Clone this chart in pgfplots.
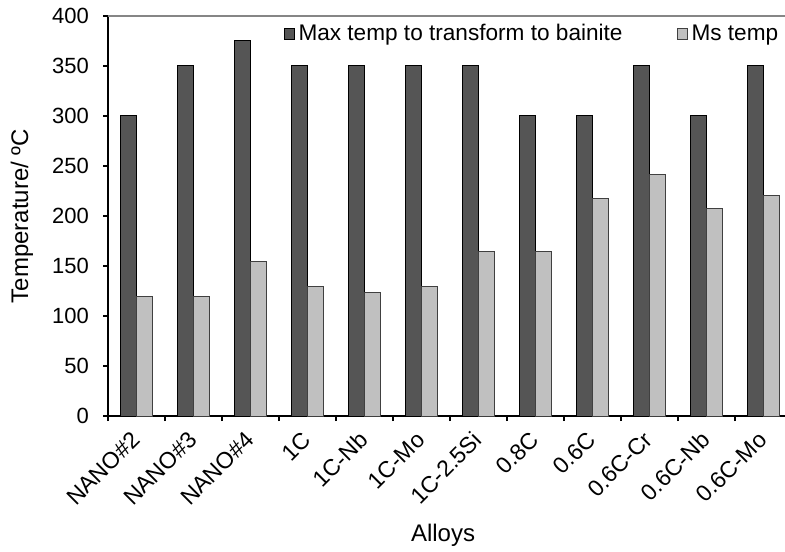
\documentclass[border=0pt]{standalone}
\usepackage{fontspec}
\setmainfont{Liberation Sans}
\usepackage{pgfplots}
\usepackage{pgfplotstable}
\pgfplotsset{compat=1.18}

\definecolor{darkbar}{HTML}{555555}
\definecolor{lightbar}{HTML}{C0C0C0}
\definecolor{framegray}{HTML}{868686}

% Bainite start limit and martensite start temperature per alloy
\pgfplotstableread{
idx maxT msT
0  300 120
1  350 120
2  375 155
3  350 130
4  350 124
5  350 130
6  350 165
7  300 165
8  300 217
9  350 241
10 300 207
11 350 220
}\alloydata

\begin{document}
\begin{tikzpicture}[font=\fontsize{11}{13}\selectfont]
\useasboundingbox (-54pt,-67.5pt) rectangle (338.5pt,208pt);
\begin{axis}[
  at={(0,0)}, anchor=south west,
  scale only axis, width=342pt, height=200pt,
  xmin=-0.5, xmax=11.5, ymin=0, ymax=400,
  axis x line*=bottom, axis y line*=left,
  axis line style={black, line width=0.6pt},
  tick align=outside, major tick length=2.5pt, minor tick length=2.5pt,
  tick style={black, line width=0.6pt},
  ytick={0,50,...,400},
  yticklabel style={xshift=-3.5pt},
  xtick={0,1,...,11},
  xticklabels={NANO\#2,NANO\#3,NANO\#4,1C,1C-Nb,1C-Mo,1C-2.5Si,0.8C,0.6C,0.6C-Cr,0.6C-Nb,0.6C-Mo},
  major x tick style={draw=none},
  minor xtick={-0.5,0.5,...,11.5},
  xticklabel style={xshift=2pt, yshift=-5pt, rotate=45, anchor=east,
    font=\fontsize{11.5}{13.5}\selectfont},
  /pgf/number format/assume math mode=true,
  ylabel={Temperature/ ºC},
  xlabel={Alloys},
  label style={font=\fontsize{12}{14}\selectfont},
  y label style={at={(axis description cs:-0.1257,0.5)}, anchor=center},
  x label style={at={(axis description cs:0.4898,-0.2975)}, anchor=center},
  legend columns=2,
  legend style={draw=none, fill=none, at={(axis description cs:0.256,0.99)},
    anchor=north west, inner sep=0pt, font=\fontsize{11.3}{13.5}\selectfont,
    /tikz/every even column/.append style={column sep=25pt}},
  legend cell align=left,
]
\addplot[ybar, bar width=8pt, bar shift=-4pt, fill=darkbar, draw=black, line width=0.5pt,
  legend image code/.code={\draw[fill=darkbar, draw=black, line width=0.5pt] (0pt,-2.8pt) rectangle (5pt,3pt);}]
  table[x=idx, y=maxT] {\alloydata};
\addlegendentry{Max temp to transform to bainite}
\addplot[ybar, bar width=8pt, bar shift=4pt, fill=lightbar, draw=black!75, line width=0.5pt,
  legend image code/.code={\draw[fill=lightbar, draw=black!75, line width=0.5pt] (0pt,-2.8pt) rectangle (5pt,3pt);}]
  table[x=idx, y=msT] {\alloydata};
\addlegendentry{Ms temp}
\draw[framegray, line width=0.6pt] (rel axis cs:0,1) -- (rel axis cs:1,1);
\end{axis}
\end{tikzpicture}
\end{document}
